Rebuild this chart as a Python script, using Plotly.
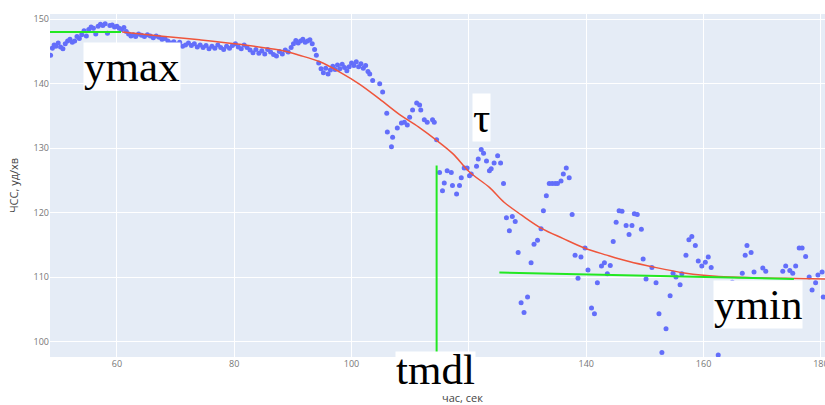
import plotly.graph_objects as go

# ---- heart-rate samples (time, s ; HR, bpm) ----
t_hr = [
    48.7, 49.0, 49.3, 49.6, 50.0, 50.4, 50.8, 51.2, 51.6, 52.0, 52.4, 52.8, 53.2, 53.6, 54.0, 54.4,
    54.8, 55.2, 55.6, 56.0, 56.4, 56.8, 57.2, 57.6, 58.0, 58.4, 58.8, 59.2, 59.6, 60.0, 60.4, 60.8,
    61.2, 61.6, 62.0, 62.4, 62.8, 63.2, 63.7, 64.2, 64.7, 65.2, 65.7, 66.2, 66.7, 67.2, 67.7, 68.2,
    68.7, 69.2, 69.7, 70.2, 70.7, 71.2, 71.7, 72.2, 72.7, 73.2, 73.7, 74.2, 74.7, 75.2, 75.7, 76.2,
    76.7, 77.2, 77.7, 78.2, 78.7, 79.2, 79.7, 80.2, 80.7, 81.2, 81.7, 82.2, 82.7, 83.2, 83.7, 84.2,
    84.7, 85.2, 85.7, 86.2, 86.7, 87.2, 87.7, 88.2, 88.7, 89.2, 89.7, 90.1, 90.5, 90.9, 91.3, 91.7,
    92.1, 92.5, 92.9, 93.3, 93.7, 94.0, 94.4, 94.8, 95.2, 95.6, 96.0, 96.4, 96.8, 97.2, 97.6, 98.0,
    98.4, 98.8, 99.2, 99.6, 100.0, 100.4, 100.8, 101.2, 101.6, 102.0, 102.4, 102.8,
    103.1, 103.6, 104.8, 105.3, 106.0, 106.1, 107.0, 106.8, 107.8, 108.5, 109.0, 109.5, 109.9, 110.4,
    111.1, 111.6, 111.8, 112.4, 112.9, 113.8, 114.1, 114.5,
    115.0, 115.5, 115.8, 116.3, 117.0, 117.2, 117.9, 118.4, 118.7, 119.2, 119.7, 120.1, 120.4, 121.3,
    121.6, 122.1, 122.5, 123.0, 123.5, 123.8, 124.3, 124.9, 125.4, 125.9, 126.4, 126.9, 127.4, 127.9,
    128.4, 128.9, 129.4, 130.0, 130.6, 131.1, 131.7, 132.3, 132.7, 133.2, 133.7, 134.2, 134.7, 135.1,
    135.7, 136.1, 136.6, 137.1, 137.6, 138.1, 138.6, 139.1, 139.8, 140.3, 140.9, 141.4, 141.9, 142.6,
    143.1, 143.6, 144.1, 144.6, 145.1, 145.6, 146.1, 146.8, 147.3, 147.8, 148.2, 148.7, 149.4, 149.7,
    150.2, 151.2, 151.9, 152.4, 152.9, 153.6, 154.3, 154.8, 155.3, 156.0, 156.3, 157.0, 157.5, 158.0,
    158.6, 159.1, 159.7, 160.3, 160.8, 161.3, 162.5, 164.3, 164.9, 165.5, 166.6, 167.1, 167.4, 168.1,
    168.6, 169.6, 170.1, 170.6, 171.3, 173.5, 174.0, 174.7, 175.2, 175.7, 176.3, 176.8, 177.4, 178.0,
    178.5, 179.1, 179.5, 180.2, 180.4,
]
hr = [
    144.4, 145.5, 146.0, 145.8, 146.3, 145.7, 145.4, 146.2, 146.6, 146.9, 146.4, 146.6, 147.3, 147.0, 147.6, 148.2,
    147.4, 148.4, 148.8, 148.6, 147.7, 148.9, 149.2, 149.0, 149.3, 147.8, 149.0, 149.1, 148.8, 148.9, 148.6, 148.4,
    148.7, 148.1, 147.7, 147.4, 147.6, 147.3, 147.7, 147.5, 147.3, 147.6, 147.4, 147.1, 147.4, 147.2, 146.9, 147.0,
    146.6, 146.3, 146.5, 146.1, 146.4, 145.8, 146.0, 146.3, 145.9, 146.2, 145.7, 146.0, 145.6, 145.9, 145.4, 145.8,
    145.5, 146.0, 145.6, 145.3, 145.8, 145.5, 145.9, 146.2, 145.7, 145.4, 146.0, 145.6, 145.2, 144.8, 145.3, 144.7,
    145.1, 144.6, 145.3, 144.9, 144.5, 144.3, 145.0, 144.6, 145.2, 144.9, 145.6, 146.2, 146.7, 146.3, 146.6, 146.9,
    146.4, 146.6, 146.8, 146.2, 145.3, 144.4, 143.2, 142.3, 141.7, 142.4, 141.5, 142.1, 142.7, 142.2, 142.9, 142.3,
    143.0, 142.5, 142.0, 142.6, 143.2, 142.8, 143.4, 142.6, 143.1, 142.4, 142.8, 141.9,
    141.5, 140.5, 140.0, 138.7, 135.4, 132.5, 131.7, 130.2, 133.1, 133.9, 134.0, 133.6, 134.8, 135.9,
    137.0, 136.7, 135.9, 134.4, 134.0, 134.4, 134.0, 131.3,
    126.2, 123.4, 124.6, 126.5, 126.2, 124.2, 122.9, 124.2, 125.4, 126.9, 126.9, 125.7, 126.0, 127.2,
    128.3, 129.8, 129.2, 128.0, 126.5, 126.8, 127.7, 128.8, 127.7, 124.5, 119.2, 117.2, 119.4, 118.6,
    113.8, 106.0, 104.5, 106.9, 112.2, 115.1, 115.7, 117.5, 120.3, 122.6, 124.5, 124.5, 124.5, 124.5,
    124.9, 126.0, 126.9, 125.4, 119.7, 113.4, 109.8, 113.1, 114.5, 111.1, 105.2, 104.3, 109.1, 111.7,
    112.2, 110.5, 111.8, 115.5, 118.5, 120.3, 120.2, 118.0, 116.6, 118.0, 119.8, 119.7, 117.4, 112.8,
    109.7, 111.5, 109.1, 104.3, 98.3, 102.0, 107.1, 110.6, 110.0, 108.8, 110.5, 113.4, 115.8, 116.3,
    114.9, 112.5, 111.7, 112.3, 113.1, 111.5, 97.9, 108.6, 109.2, 108.3, 110.6, 113.4, 114.9, 113.8,
    110.8, 108.9, 111.4, 110.9, 108.8, 110.9, 111.7, 111.0, 110.6, 111.7, 114.5, 114.5, 113.2, 110.0,
    108.0, 109.1, 110.3, 110.8, 106.9,
]

# ---- fitted sigmoid curve ----
fit_t = [60.9, 67.3, 74.1, 80.9, 87.7, 91.1, 94.6, 98.0, 101.4, 104.8, 108.2, 111.4, 114.5, 117.3,
         120.1, 123.5, 126.0, 129.0, 132.3, 136.0, 139.7, 143.5, 147.3, 151.2, 157.0, 162.6, 168.3,
         174.0, 180.7]
fit_hr = [148.0, 147.4, 146.8, 146.1, 145.2, 144.4, 143.4, 141.8, 139.9, 137.6, 135.2, 133.3, 131.2, 129.1,
          126.3, 123.9, 121.6, 119.6, 117.6, 116.0, 114.5, 113.4, 112.4, 111.6, 110.6, 110.1, 109.9,
          109.8, 109.7]

# ---- green guide lines ----
ymax_t = [48.5, 60.7]
ymax_v = [148.0, 148.0]
tmdl_t = [114.5, 114.5]
tmdl_v = [98.3, 127.3]
ymin_t = [125.2, 175.4]
ymin_v = [110.7, 109.7]

# ---- labels (paper fractions of the plot area) ----
labels = ["ymax", "τ", "tmdl", "ymin"]
label_px = [0.106, 0.557, 0.497, 0.913]
label_py = [0.847, 0.698, -0.035, 0.152]
label_box_h = [None, None, 35, None]

x_title = "час, сек"
y_title = "ЧСС, уд/хв"

x_ticks = [60, 80, 100, 120, 140, 160, 180]
x_ticktext = ["60", "80", "100", "", "140", "160", "180"]  # "120" is covered by the tmdl label
y_ticks = [100, 110, 120, 130, 140, 150]

fig = go.Figure()
fig.add_trace(go.Scatter(x=t_hr, y=hr, mode="markers",
                         marker=dict(color="#636efa", size=5), showlegend=False))
fig.add_trace(go.Scatter(x=fit_t, y=fit_hr, mode="lines", line_shape="spline",
                         line=dict(color="#ef553b", width=1.5), showlegend=False))
for gx, gy in [(ymax_t, ymax_v), (tmdl_t, tmdl_v), (ymin_t, ymin_v)]:
    fig.add_trace(go.Scatter(x=gx, y=gy, mode="lines",
                             line=dict(color="#22e822", width=2), showlegend=False))

for txt, lx, ly, bh in zip(labels, label_px, label_py, label_box_h):
    fig.add_annotation(x=lx, y=ly, xref="paper", yref="paper", text=txt, showarrow=False,
                       xanchor="center", yanchor="middle", height=bh, valign="middle",
                       font=dict(family="Liberation Serif", size=43, color="black"),
                       bgcolor="white", borderpad=0)

# x-axis title (placed like in the reference, right of the axis centre)
fig.add_annotation(x=0.532, y=-0.118, xref="paper", yref="paper", text=x_title,
                   showarrow=False, xanchor="center", yanchor="middle",
                   font=dict(family="Open Sans", size=11, color="#444"))

fig.update_layout(
    width=825, height=405,
    margin=dict(l=50, r=0, t=14, b=48),
    plot_bgcolor="#E5ECF6", paper_bgcolor="white",
    font=dict(family="Open Sans", size=9, color="#444"),
    xaxis=dict(range=[48.6, 180.7], tickvals=x_ticks, ticktext=x_ticktext,
               gridcolor="white", zeroline=False, automargin=False,
               ticklabeloverflow="allow",
               tickfont=dict(size=9, color="#777")),
    yaxis=dict(range=[97.6, 150.8], tickvals=y_ticks, gridcolor="white", zeroline=False,
               automargin=False,
               title=dict(text=y_title, font=dict(size=11), standoff=12),
               tickfont=dict(size=9, color="#777")),
)

fig.write_html("out.html", config={"displayModeBar": False},
               post_script="document.body.style.margin='0px';document.body.style.overflow='hidden';")
